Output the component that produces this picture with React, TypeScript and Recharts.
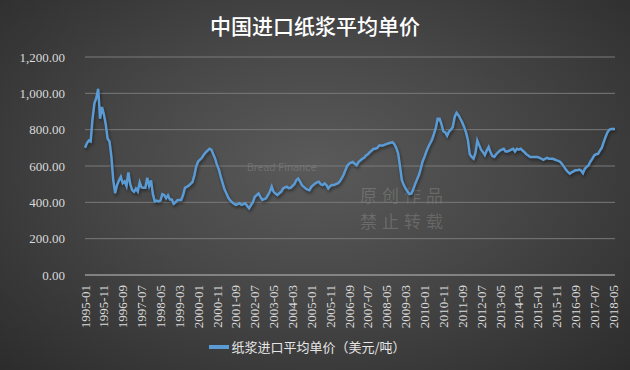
import { LineChart, Line, XAxis, YAxis, CartesianGrid, Legend } from "recharts";

// monthly average import price of pulp, USD/ton
const p1995 = [700, 725, 740, 735, 860, 945, 975, 1025, 860, 925, 885, 830];
const p1996 = [750, 735, 650, 520, 450, 495, 520, 540, 505, 515, 490, 565];
const p1997 = [500, 467, 458, 476, 460, 510, 482, 480, 480, 535, 490, 520];
const p1998 = [445, 405, 410, 405, 410, 445, 440, 422, 438, 415, 415, 392];
const p1999 = [400, 412, 413, 413, 440, 480, 486, 492, 502, 512, 549, 598];
const p2000 = [625, 635, 645, 662, 675, 685, 695, 690, 665, 640, 605, 580];
const p2001 = [540, 504, 470, 449, 425, 410, 400, 392, 386, 390, 395, 386];
const p2002 = [390, 395, 380, 367, 385, 400, 430, 440, 449, 430, 413, 418];
const p2003 = [422, 440, 458, 486, 458, 448, 440, 450, 458, 476, 482, 486];
const p2004 = [478, 480, 490, 500, 522, 531, 515, 495, 485, 476, 470, 467];
const p2005 = [486, 495, 504, 510, 513, 500, 495, 504, 495, 476, 490, 495];
const p2006 = [495, 500, 504, 513, 531, 549, 575, 600, 613, 618, 622, 612];
const p2007 = [604, 622, 631, 640, 645, 658, 665, 676, 685, 695, 695, 700];
const p2008 = [713, 713, 713, 718, 722, 725, 728, 731, 720, 700, 670, 600];
const p2009 = [522, 495, 476, 460, 445, 448, 470, 500, 525, 549, 585, 625];
const p2010 = [650, 680, 705, 725, 745, 775, 810, 860, 860, 830, 790, 785];
const p2011 = [767, 790, 800, 815, 870, 893, 880, 860, 840, 815, 785, 745];
const p2012 = [665, 650, 640, 670, 740, 715, 690, 676, 660, 685, 704, 676];
const p2013 = [655, 650, 665, 675, 685, 690, 695, 680, 680, 685, 690, 695];
const p2014 = [680, 695, 690, 695, 685, 676, 665, 658, 649, 649, 649, 649];
const p2015 = [649, 645, 640, 634, 640, 645, 640, 640, 640, 636, 631, 628];
const p2016 = [622, 610, 595, 580, 567, 558, 565, 570, 576, 576, 580, 575];
const p2017 = [560, 585, 595, 604, 625, 640, 658, 665, 667, 685, 700, 731];
const p2018 = [760, 785, 800, 804, 804, 804];

const yearly: [number, number[]][] = [
  [1995, p1995], [1996, p1996], [1997, p1997], [1998, p1998], [1999, p1999],
  [2000, p2000], [2001, p2001], [2002, p2002], [2003, p2003], [2004, p2004],
  [2005, p2005], [2006, p2006], [2007, p2007], [2008, p2008], [2009, p2009],
  [2010, p2010], [2011, p2011], [2012, p2012], [2013, p2013], [2014, p2014],
  [2015, p2015], [2016, p2016], [2017, p2017], [2018, p2018],
];

const yTicks = [0, 200, 400, 600, 800, 1000, 1200];
const title = "中国进口纸浆平均单价";
const seriesName = "纸浆进口平均单价（美元/吨）";

const data = yearly.flatMap(([yr, vals]) =>
  vals.map((v, k) => ({ month: `${yr}-${String(k + 1).padStart(2, "0")}`, price: v }))
);

const fmt = (v: number) =>
  v.toLocaleString("en-US", { minimumFractionDigits: 2, maximumFractionDigits: 2 });

const MonthTick = ({ x, y, payload }: any) => (
  <g transform={`translate(${x},${y + 2})`}>
    <text
      transform="rotate(-90)"
      textAnchor="end"
      dy="0.35em"
      fill="#d9d9d9"
      fontSize={13}
      fontFamily="Liberation Serif, serif"
    >
      {payload.value}
    </text>
  </g>
);

const LegendBox = () => (
  <div
    style={{
      display: "flex",
      justifyContent: "center",
      alignItems: "center",
      color: "#e6e6e6",
      fontSize: 13,
      fontFamily: "'Noto Sans CJK SC', sans-serif",
    }}
  >
    <span style={{ width: 20, height: 4, background: "#5B9BD5", marginRight: 2 }} />
    <span>{seriesName}</span>
  </div>
);

const wm = { position: "absolute" as const, color: "rgba(255,255,255,0.16)", fontFamily: "'Noto Sans CJK SC', sans-serif" };

export default function App() {
  return (
    <div
      style={{
        position: "absolute",
        left: 0,
        top: 0,
        width: 630,
        height: 370,
        background: "radial-gradient(ellipse at 50% 45%, #5a5a5a 0%, #474747 45%, #2c2c2c 100%)",
        overflow: "hidden",
      }}
    >
      <div
        style={{
          position: "absolute",
          top: 10,
          width: 630,
          textAlign: "center",
          color: "#ffffff",
          fontSize: 21,
          fontWeight: 500,
          fontFamily: "'Noto Sans CJK SC', sans-serif",
          lineHeight: "30px",
        }}
      >
        {title}
      </div>
      {/* faint watermark */}
      <div style={{ ...wm, left: 247, top: 161, fontSize: 11, fontFamily: "Roboto, sans-serif" }}>Bread Finance</div>
      <div style={{ ...wm, left: 360, top: 185, fontSize: 17, lineHeight: "20px", letterSpacing: 5 }}>原创作品</div>
      <div style={{ ...wm, left: 360, top: 211, fontSize: 17, lineHeight: "20px", letterSpacing: 5 }}>禁止转载</div>
      <LineChart width={630} height={370} data={data} margin={{ top: 57, right: 15, bottom: 5, left: 0 }}>
        <CartesianGrid vertical={false} stroke="#7a7a7a" strokeWidth={1} />
        <XAxis
          dataKey="month"
          interval={9}
          tick={<MonthTick />}
          tickLine={false}
          axisLine={{ stroke: "#a6a6a6" }}
          height={62}
        />
        <YAxis
          domain={[0, 1200]}
          ticks={yTicks}
          tickFormatter={fmt}
          axisLine={false}
          tickLine={false}
          width={85}
          tickMargin={14}
          tick={{ fill: "#d9d9d9", fontSize: 13, fontFamily: "Liberation Serif, serif" }}
        />
        <Legend verticalAlign="bottom" height={28} content={<LegendBox />} />
        <Line
          type="linear"
          dataKey="price"
          name={seriesName}
          stroke="#5B9BD5"
          strokeWidth={2.5}
          dot={false}
          isAnimationActive={false}
          style={{ filter: "drop-shadow(1px 2px 1.5px rgba(0,0,0,0.45))" }}
        />
      </LineChart>
    </div>
  );
}
